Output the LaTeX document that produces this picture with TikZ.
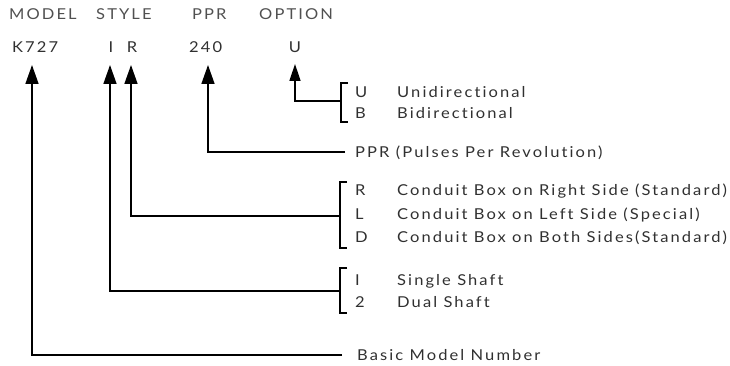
\documentclass[tikz,border=0pt]{standalone}
\usepackage{fontspec}
\setmainfont{Lato}[FakeStretch=1.1, LetterSpace=14, Ligatures={NoCommon,NoContextual}]
\usetikzlibrary{arrows.meta}
\definecolor{ink}{HTML}{303030}
\definecolor{hdr}{HTML}{505050}
\tikzset{
  lbl/.style={inner sep=0pt, anchor=base west, text=ink, font=\fontsize{15}{17}\selectfont},
  head/.style={lbl, text=hdr},
  code/.style={inner sep=0pt, anchor=base, text=ink, font=\fontsize{15}{17}\selectfont},
  lead/.style={line width=1.6pt, -{Triangle[length=19pt,width=13pt]}},
  smalllead/.style={line width=1.6pt, -{Triangle[length=17pt,width=11pt]}},
  brk/.style={line width=2.2pt}
}
\begin{document}
\begin{tikzpicture}[x=1pt,y=-1pt]
\useasboundingbox (0,0) rectangle (730,366);
% headers
\node[head] (hModel) at (9,20) {MODEL};
\node[head] (hStyle) at (96,20) {STYLE};
\node[head] (hPpr) at (192,20) {PPR};
\node[head] (hOpt) at (259,20) {OPTION};
% code row
\node[lbl] (k727) at (12,53) {K727};
\node[code] (s1) at (111,53) {I};
\node[code] (sR) at (132,53) {R};
\node[lbl] (p240) at (189,53) {240};
\node[code] (oU) at (295,53) {U};
% arrow tips
\coordinate (tK) at (32,65);
\coordinate (tI) at (110,65);
\coordinate (tR) at (131,65);
\coordinate (tP) at (208,65);
\coordinate (tU) at (295,64);
% option bracket
\coordinate (jU) at (341,101);
\draw[brk] (348,83) -- (341,83) -- (341,122) -- (348,122);
\draw[smalllead] (jU) -| (tU);
\node[lbl] (cU) at (355,98) {U};
\node[lbl] (dU) at (397,98) {Unidirectional};
\node[lbl] (cB) at (355,119) {B};
\node[lbl] (dB) at (397,119) {Bidirectional};
% PPR
\coordinate (jP) at (345,152);
\draw[lead] (jP) -| (tP);
\node[lbl] (dP) at (355,158) {PPR (Pulses Per Revolution)};
% R L D bracket
\coordinate (jR) at (340,216);
\draw[brk] (347,182) -- (340,182) -- (340,248) -- (347,248);
\draw[lead] (jR) -| (tR);
\node[lbl] (cR) at (355,196) {R};
\node[lbl] (dR) at (397,196) {Conduit Box on Right Side (Standard)};
\node[lbl] (cL) at (355,219) {L};
\node[lbl] (dL) at (397,219) {Conduit Box on Left Side (Special)};
\node[lbl] (cD) at (355,242) {D};
\node[lbl] (dD) at (397,242) {Conduit Box on Both Sides(Standard)};
% shaft bracket
\coordinate (jI) at (340,291);
\draw[brk] (347,268) -- (340,268) -- (340,313) -- (347,313);
\draw[lead] (jI) -| (tI);
\node[lbl] (c1) at (355,285) {I};
\node[lbl] (d1) at (397,285) {Single Shaft};
\node[lbl] (c2) at (355,307) {2};
\node[lbl] (d2) at (397,307) {Dual Shaft};
% basic model
\coordinate (jK) at (342,355);
\draw[lead] (jK) -| (tK);
\node[lbl] (dK) at (357,360) {Basic Model Number};
\end{tikzpicture}
\end{document}
